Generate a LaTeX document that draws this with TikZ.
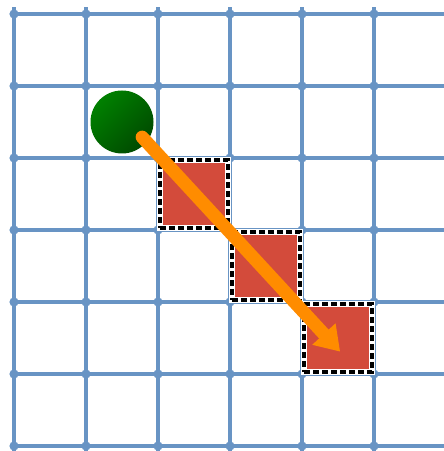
\documentclass[tikz,border=0pt]{standalone}
\usepackage{xcolor}
\definecolor{cGrid}{HTML}{6894C4}
\definecolor{cTrap}{HTML}{D34B3B}
\definecolor{cPath}{HTML}{FF8C00}
\definecolor{cBallL}{HTML}{008000}
\definecolor{cBallD}{HTML}{004A00}
\usepackage{tikz}
\usetikzlibrary{arrows.meta}
\tikzset{
  grid-line/.style={draw=cGrid,line width=4.5pt},
  grid-cell/.style={fill=white,rounded corners=5pt},
  grid-knot/.style={fill=cGrid},
  node-ball/.style={circle,minimum size=63pt,inner sep=0pt,
    shading=axis,top color=cBallL,bottom color=cBallD,shading angle=45},
  node-trap/.style={rectangle,minimum size=68pt,inner sep=0pt,
    fill=cTrap,draw=white,line width=5.5pt,
    postaction={draw=black,line width=4pt,dash pattern=on 6pt off 3pt}},
  arrow-move/.style={-{Triangle[length=24pt,width=30pt]},line width=13pt,
    line cap=round,draw=cPath},
}

\begin{document}
\begin{tikzpicture}[x=72pt,y=72pt]
  \useasboundingbox (-0.19444,-0.06944) rectangle (5.95833,6.19444);
  % grid
  \foreach \x in {0,...,5}
    \draw[grid-line] (\x,-0.2) -- (\x,6.1);
  \foreach \y in {0,...,6}
    \draw[grid-line] (0,\y) -- (6.2,\y);
  \foreach \x in {0,...,5}
    \foreach \y in {0,...,5}
      \fill[grid-cell] (\x+0.03125,\y+0.03125) rectangle (\x+0.96875,\y+0.96875);
  \foreach \x in {0,...,5}
    \foreach \y in {0,...,6}
      \fill[grid-knot] (\x,\y) circle (4.6pt);
  % ball and traps
  \node[node-ball] (ball) at (1.5,4.5) {};
  \node[node-trap] (trap1) at (2.5,3.5) {};
  \node[node-trap] (trap2) at (3.5,2.5) {};
  \node[node-trap] (trap3) at (4.5,1.5) {};
  % move
  \coordinate (start) at (1.78,4.29);
  \coordinate (goal) at (4.53,1.31);
  \draw[arrow-move] (start) -- (goal);
\end{tikzpicture}
\end{document}
